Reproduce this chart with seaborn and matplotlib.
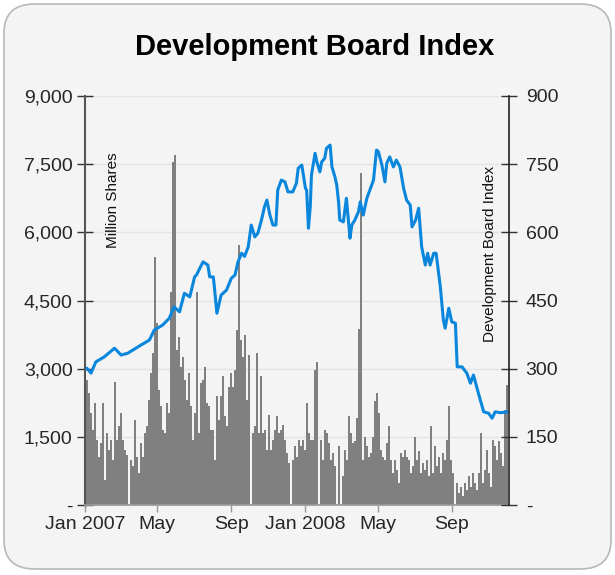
import matplotlib
matplotlib.use("Agg")
import matplotlib.pyplot as plt
import matplotlib.patches as patches
import matplotlib.ticker as mticker
import pandas as pd
import seaborn as sns

# daily-ish traded volume (million shares), read every ~3.3 days
volume = [
    2970, 2750, 2460, 2020, 1650, 2240, 1430, 1065, 1360, 2240,
    550, 1580, 1210, 1430, 990, 2710, 1430, 1730, 2020, 1430,
    1210, 1100, 0, 990, 850, 1870, 1065, 700, 1360, 1065,
    1580, 1730, 2310, 2900, 3340, 5460, 4000, 2530, 2170, 1650,
    1580, 2240, 2020, 4690, 7550, 7700, 3410, 3700, 3040, 3260,
    2750, 2310, 2900, 2170, 1430,
    2020, 4690, 1580, 2680, 2750, 3040, 2240, 2170, 1650, 1650,
    990, 2390, 1870, 2390, 2830, 1950, 1730, 2600, 2900, 2600,
    2970, 3850, 5720, 3630, 3260, 3740, 2310, 3300, 0, 1580,
    1730, 3340, 1580, 2830, 1580, 1650, 1210, 1980, 1210, 1430,
    1650, 1950, 1580, 1650, 1760, 1430, 1140, 920, 0, 990,
    1290, 1065, 1430,
    1290, 1430, 1210, 2240, 1580, 1430, 1430, 2970, 3150, 0,
    1430, 990, 1650, 1580, 1360, 990, 1140, 850, 0, 1290,
    0, 630, 1210, 990, 1950, 1580, 1360, 1400, 1910, 3880,
    7300, 990, 1500, 1290, 1065, 1140, 1500, 2280, 2460, 2020,
    1210, 1065, 990, 1360, 1730, 990, 700, 990, 770, 480,
    1140, 1065, 1210,
    1065, 990, 700, 850, 1500, 990, 1180, 700, 920, 770,
    990, 630, 1730, 700, 1290, 850, 1065, 700, 1140, 990,
    1430, 2170, 990, 700, 0, 480, 260, 400, 190, 480,
    330, 630, 400, 700, 480, 330, 700, 1580, 480, 770,
    1210, 700, 400, 1430, 1290, 990, 1400, 1140, 850, 2100,
    2650,
]
volume_start = "2007-01-01"
volume_end = "2008-12-02"

index_dates = [
    "2007-01-04", "2007-01-11", "2007-01-19", "2007-02-02", "2007-02-19",
    "2007-03-02", "2007-03-13", "2007-04-04", "2007-04-18", "2007-04-26",
    "2007-05-10", "2007-05-21", "2007-05-29", "2007-06-07", "2007-06-15",
    "2007-06-24", "2007-07-02", "2007-07-05", "2007-07-16", "2007-07-24",
    "2007-07-27", "2007-08-02", "2007-08-04", "2007-08-08", "2007-08-15",
    "2007-08-24", "2007-09-01", "2007-09-07", "2007-09-12", "2007-09-18",
    "2007-09-23", "2007-09-29", "2007-10-04", "2007-10-10", "2007-10-15",
    "2007-10-21", "2007-10-26", "2007-10-30", "2007-11-04", "2007-11-09",
    "2007-11-14", "2007-11-17", "2007-11-23", "2007-11-29", "2007-12-04",
    "2007-12-12", "2007-12-18", "2007-12-21", "2007-12-27", "2008-01-02",
    "2008-01-04", "2008-01-07", "2008-01-10", "2008-01-12", "2008-01-18",
    "2008-01-21", "2008-01-26", "2008-01-29", "2008-02-03", "2008-02-06",
    "2008-02-12", "2008-02-15", "2008-02-20", "2008-02-23", "2008-02-26",
    "2008-02-28", "2008-03-05", "2008-03-10", "2008-03-13", "2008-03-16",
    "2008-03-19", "2008-03-24", "2008-03-30", "2008-04-02", "2008-04-07",
    "2008-04-13", "2008-04-18", "2008-04-24", "2008-04-29", "2008-05-02",
    "2008-05-08", "2008-05-13", "2008-05-16", "2008-05-21", "2008-05-27",
    "2008-06-01", "2008-06-07", "2008-06-13", "2008-06-18", "2008-06-24",
    "2008-06-27", "2008-07-03", "2008-07-08", "2008-07-13", "2008-07-19",
    "2008-07-23", "2008-07-27", "2008-08-02", "2008-08-06", "2008-08-13",
    "2008-08-18", "2008-08-21", "2008-08-27", "2008-09-01", "2008-09-07",
    "2008-09-10", "2008-09-18", "2008-09-26", "2008-10-02", "2008-10-07",
    "2008-10-16", "2008-10-24", "2008-11-01", "2008-11-07", "2008-11-12",
    "2008-11-21", "2008-12-02",
]
index_values = [
    301, 290, 315, 326, 345, 330, 334, 352, 363, 385,
    396, 411, 436, 425, 466, 458, 502, 506, 535, 528,
    502, 502, 477, 422, 462, 473, 499, 506, 535, 554,
    547, 568, 616, 590, 598, 627, 656, 671, 638, 616,
    616, 693, 715, 711, 689, 689, 708, 741, 748, 697,
    693, 609, 656, 726, 774, 755, 733, 755, 763, 785,
    792, 744, 722, 704, 667, 627, 623, 675, 631, 587,
    616, 627, 645, 667, 638, 675, 693, 715, 781, 778,
    748, 711, 752, 766, 744, 759, 744, 697, 671, 660,
    612, 627, 653, 568, 528, 554, 528, 554, 554, 480,
    407, 389, 433, 403, 400, 304, 304, 290, 268, 286,
    242, 205, 202, 191, 205, 203, 205,
]

month_ticks = ["2007-01-01", "2007-05-01", "2007-09-01",
               "2008-01-01", "2008-05-01", "2008-09-01"]
month_labels = ["Jan 2007", "May", "Sep", "Jan 2008", "May", "Sep"]
volume_ticks = [0, 1500, 3000, 4500, 6000, 7500, 9000]
index_ticks = [0, 150, 300, 450, 600, 750, 900]

bg = "#f4f4f4"
bar_color = "#808080"
line_color = "#0a87dd"

sns.set_theme(style="white")
plt.rcParams["font.family"] = ["Liberation Sans", "DejaVu Sans"]

vol_df = pd.DataFrame({
    "date": pd.date_range(volume_start, volume_end, periods=len(volume)),
    "volume": volume,
})
idx_df = pd.DataFrame({"date": pd.to_datetime(index_dates), "index": index_values})

fig = plt.figure(figsize=(6.15, 5.75), dpi=100, facecolor="white")
W, H = 615, 575

# rounded card behind everything
card = patches.FancyBboxPatch((4 / W, 6 / H), 607 / W, 565 / H,
                              boxstyle="round,pad=0,rounding_size=0.05",
                              transform=fig.transFigure, facecolor=bg,
                              edgecolor="#b8b8b8", linewidth=1.2, zorder=-10)
fig.patches.append(card)

ax = fig.add_axes([85 / W, 1 - 505 / H, 424 / W, 409 / H])
ax.set_facecolor(bg)
ax2 = ax.twinx()

sns.barplot(data=vol_df, x="date", y="volume", native_scale=True, width=1.0,
            color=bar_color, saturation=1, linewidth=0, ax=ax)
sns.lineplot(data=idx_df, x="date", y="index", color=line_color, linewidth=2.2,
             ax=ax2)

ax.set_xlim(pd.Timestamp("2007-01-01"), pd.Timestamp("2008-12-05"))
ax.set_ylim(0, 9000)
ax2.set_ylim(0, 900)

ax.set_yticks(volume_ticks)
ax2.set_yticks(index_ticks)
fmt = mticker.FuncFormatter(lambda v, p: "-" if v == 0 else f"{v:,.0f}")
ax.yaxis.set_major_formatter(fmt)
ax2.yaxis.set_major_formatter(fmt)
ax.set_xticks(pd.to_datetime(month_ticks))
ax.set_xticklabels(month_labels)

ax.grid(axis="y", color="#e4e4e4", linewidth=1)
ax.set_axisbelow(True)
ax.set_xlabel("")
ax.set_ylabel("")
ax2.set_xlabel("")
ax2.set_ylabel("")

for a in (ax, ax2):
    for s in ("top", "left", "right"):
        a.spines[s].set_visible(False)
ax.spines["left"].set_visible(True)
ax.spines["left"].set_color("#555555")
ax.spines["left"].set_linewidth(1.5)
ax2.spines["right"].set_visible(True)
ax2.spines["right"].set_color("#222222")
ax2.spines["right"].set_linewidth(1.2)
ax.spines["bottom"].set_color("#999999")
ax2.spines["bottom"].set_visible(False)

ax.tick_params(axis="y", direction="inout", length=12, width=1, color="#333333",
               labelsize=14, pad=3, left=True)
ax2.tick_params(axis="y", direction="inout", length=12, width=1, color="#333333",
                labelsize=14, pad=6, right=True)
ax.tick_params(axis="x", direction="out", length=5, width=1, color="#999999",
               labelsize=14, pad=3, bottom=True)

ax.text(0.066, 0.746, "Million Shares", transform=ax.transAxes, rotation=90,
        ha="center", va="center", fontsize=11, color="#111111")
ax.text(0.955, 0.614, "Development Board Index", transform=ax.transAxes,
        rotation=90, ha="center", va="center", fontsize=11, color="#111111")

fig.text(315 / W, 1 - 47 / H, "Development Board Index", ha="center",
         va="center", fontsize=21, fontweight="bold", color="black")

fig.savefig("out.png", dpi=100, facecolor="white")
